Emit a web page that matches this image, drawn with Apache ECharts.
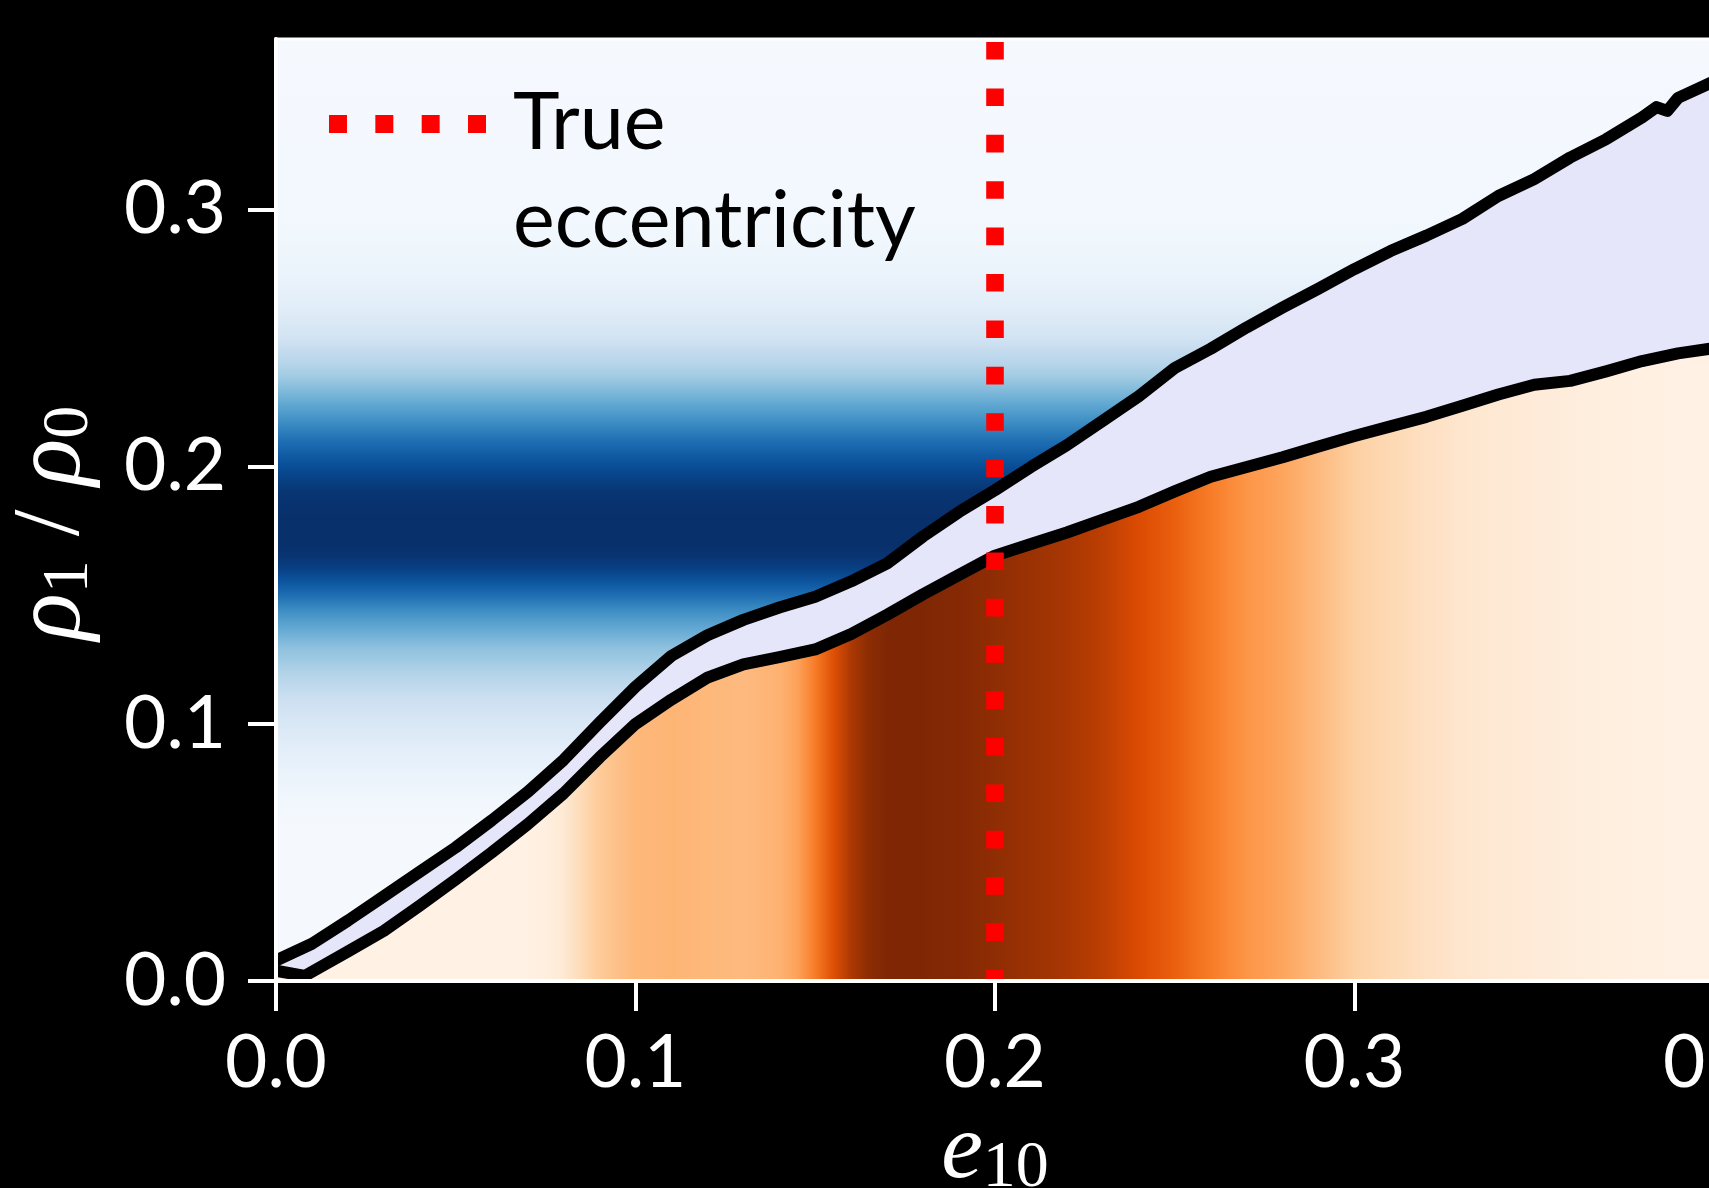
<!DOCTYPE html>
<html><head><meta charset="utf-8">
<script src="https://cdn.jsdelivr.net/npm/echarts@6/dist/echarts.min.js"></script>
<style>html,body{margin:0;padding:0;background:#000;overflow:hidden}#c{width:1709px;height:1188px}</style>
</head><body><div id="c"></div>
<script>
// ---- data ----
const xTicks = [0, 0.1, 0.2, 0.3, 0.4];
const yTicks = [0, 0.1, 0.2, 0.3];
const xMax = 0.4;
const yMax = 0.3665;
const trueEcc = 0.2;
const legendLabel = 'True eccentricity';

const upperX = [0, 0.01, 0.02, 0.03, 0.04, 0.05, 0.06, 0.07, 0.08, 0.09, 0.10, 0.11, 0.12, 0.13, 0.14, 0.15, 0.16, 0.17, 0.18, 0.19, 0.20, 0.21, 0.22, 0.23, 0.24, 0.25, 0.26, 0.27, 0.28, 0.29, 0.30, 0.31, 0.32, 0.33, 0.34, 0.35, 0.36, 0.37, 0.38, 0.384, 0.387, 0.39, 0.40];
const upperY = [0.008, 0.0145, 0.0235, 0.033, 0.0425, 0.052, 0.0625, 0.0735, 0.086, 0.1005, 0.1145, 0.1265, 0.1345, 0.1405, 0.1453, 0.1495, 0.1555, 0.1625, 0.173, 0.1825, 0.191, 0.2, 0.2085, 0.218, 0.2275, 0.2385, 0.246, 0.2543, 0.262, 0.2694, 0.277, 0.284, 0.29, 0.2965, 0.3054, 0.312, 0.3204, 0.3275, 0.336, 0.340, 0.3385, 0.3436, 0.350];

const lowerX = [0, 0.008, 0.02, 0.03, 0.04, 0.05, 0.06, 0.07, 0.08, 0.09, 0.10, 0.11, 0.12, 0.13, 0.14, 0.15, 0.16, 0.17, 0.18, 0.19, 0.20, 0.21, 0.22, 0.23, 0.24, 0.25, 0.26, 0.27, 0.28, 0.29, 0.30, 0.31, 0.32, 0.33, 0.34, 0.35, 0.36, 0.37, 0.38, 0.39, 0.40];
const lowerY = [0.004, 0.002, 0.0115, 0.0195, 0.0293, 0.0395, 0.05, 0.061, 0.073, 0.087, 0.1, 0.1095, 0.118, 0.1232, 0.126, 0.129, 0.135, 0.1425, 0.1505, 0.158, 0.1655, 0.170, 0.1745, 0.1795, 0.1845, 0.1905, 0.1962, 0.2, 0.2038, 0.208, 0.212, 0.2158, 0.2195, 0.2238, 0.2282, 0.232, 0.2335, 0.2372, 0.2412, 0.2442, 0.2462];

// density of rho1/rho0 (Blues), by y
const blueY = [0, 0.06, 0.07, 0.08, 0.09, 0.10, 0.11, 0.12, 0.13, 0.135, 0.14, 0.145, 0.15, 0.155, 0.16, 0.165, 0.17, 0.18, 0.19, 0.195, 0.20, 0.205, 0.21, 0.215, 0.22, 0.225, 0.23, 0.235, 0.24, 0.25, 0.26, 0.27, 0.28, 0.29, 0.30, 0.3665];
const blueD = [0.012, 0.012, 0.03, 0.06, 0.10, 0.15, 0.22, 0.31, 0.42, 0.49, 0.57, 0.66, 0.76, 0.85, 0.93, 0.98, 1.0, 1.0, 0.98, 0.94, 0.89, 0.83, 0.76, 0.68, 0.60, 0.52, 0.44, 0.37, 0.30, 0.19, 0.12, 0.075, 0.05, 0.035, 0.02, 0.012];

// density of e10 (Oranges), by x
const orangeX = [0, 0.07, 0.075, 0.08, 0.085, 0.09, 0.095, 0.10, 0.11, 0.12, 0.13, 0.14, 0.145, 0.15, 0.155, 0.16, 0.165, 0.17, 0.18, 0.19, 0.20, 0.21, 0.22, 0.23, 0.24, 0.25, 0.26, 0.27, 0.28, 0.29, 0.30, 0.31, 0.32, 0.33, 0.34, 0.35, 0.36, 0.37, 0.38, 0.40];
const orangeD = [0.03, 0.035, 0.05, 0.10, 0.19, 0.27, 0.31, 0.34, 0.35, 0.34, 0.33, 0.36, 0.42, 0.56, 0.72, 0.86, 0.96, 1.0, 1.0, 0.98, 0.95, 0.91, 0.87, 0.82, 0.74, 0.66, 0.56, 0.47, 0.41, 0.33, 0.25, 0.20, 0.16, 0.125, 0.10, 0.08, 0.065, 0.05, 0.04, 0.03];

// ---- colour maps (style) ----
const BLUES = ['#f7fbff','#deebf7','#c6dbef','#9ecae1','#6baed6','#4292c6','#2171b5','#08519c','#08306b'];
const ORANGES = ['#fff5eb','#fee6ce','#fdd0a2','#fdae6b','#fd8d3c','#f16913','#d94801','#a63603','#7f2704'];
function hex2rgb(h){return [parseInt(h.slice(1,3),16),parseInt(h.slice(3,5),16),parseInt(h.slice(5,7),16)];}
function cmap(stops, t){
  t = Math.max(0, Math.min(1, t));
  const p = t * (stops.length - 1);
  const i = Math.min(stops.length - 2, Math.floor(p));
  const f = p - i;
  const a = hex2rgb(stops[i]), b = hex2rgb(stops[i+1]);
  const c = a.map((v,k)=>Math.round(v + (b[k]-v)*f));
  return 'rgb(' + c.join(',') + ')';
}
const blueStops = blueY.map((y,i)=>({offset:(yMax - y)/yMax, color:cmap(BLUES, blueD[i])})).reverse();
const orangeStops = orangeX.map((x,i)=>({offset:x / xMax, color:cmap(ORANGES, orangeD[i])}));

const upper = upperX.map((x,i)=>[x, upperY[i]]);
const lower = lowerX.map((x,i)=>[x, lowerY[i]]);

const chart = echarts.init(document.getElementById('c'), null, {renderer:'canvas'});
const mathFont = 'Liberation Serif';
const W = '#ffffff';
chart.setOption({
  backgroundColor: '#000000',
  animation: false,
  grid: {left: 276, top: 39, width: 1438, height: 942, outerBoundsMode: 'none', containLabel: false,
         show: true, borderColor: W, borderWidth: 3, backgroundColor: 'transparent', z: 10},
  legend: {
    data: [legendLabel], left: 329, top: -40, padding: 0, itemGap: 0, selectedMode: false,
    icon: 'path://M0 0H18V18H0Z M46.4 0H64.4V18H46.4Z M92.8 0H110.8V18H92.8Z M139.2 0H157.2V18H139.2Z',
    itemWidth: 157, itemHeight: 18,
    itemStyle: {color: '#ff0000', borderWidth: 0},
    formatter: () => '\nTrue\neccentricity',
    textStyle: {color: '#000', fontFamily: 'Lato', fontSize: 79, lineHeight: 98, padding: [0, 0, 34, 22]}
  },
  xAxis: {
    type: 'value', min: 0, max: xMax, interval: 0.1, z: 10,
    axisLine: {show: true, lineStyle: {color: W, width: 4}},
    axisTick: {show: true, length: 30, lineStyle: {color: W, width: 4}, customValues: xTicks},
    axisLabel: {color: W, fontFamily: 'Lato', fontSize: 73, margin: 46, customValues: xTicks, formatter: v => v.toFixed(1)},
    splitLine: {show: false},
    name: '{e|e}{s|10}', nameLocation: 'middle', nameGap: 103,
    nameTextStyle: {color: W, rich: {
      e: {color: W, fontFamily: mathFont, fontStyle: 'italic', fontSize: 94, lineHeight: 100},
      s: {color: W, fontFamily: mathFont, fontSize: 66, lineHeight: 50, verticalAlign: 'bottom'}
    }}
  },
  yAxis: {
    type: 'value', min: 0, max: yMax, interval: 0.1, z: 10,
    axisLine: {show: true, lineStyle: {color: W, width: 4}},
    axisTick: {show: true, length: 28, lineStyle: {color: W, width: 4}, customValues: yTicks},
    axisLabel: {color: W, fontFamily: 'Lato', fontSize: 73, margin: 50, customValues: yTicks, formatter: v => v.toFixed(1)},
    splitLine: {show: false},
    name: '{r|ρ}{s|1}{m| / }{r|ρ}{s|0}', nameLocation: 'middle', nameGap: 173,
    nameTextStyle: {color: W, padding: [0, 26, 0, 0], rich: {
      r: {color: W, fontFamily: mathFont, fontStyle: 'italic', fontSize: 98, lineHeight: 100},
      m: {color: W, fontFamily: mathFont, fontSize: 96, lineHeight: 100},
      s: {color: W, fontFamily: mathFont, fontSize: 66, lineHeight: 50, verticalAlign: 'bottom'}
    }}
  },
  series: [
    {name: 'rho density', type: 'line', z: 1, silent: true, symbol: 'none',
     data: [[0, yMax], [xMax, yMax]], lineStyle: {width: 0, opacity: 0},
     areaStyle: {opacity: 1, color: new echarts.graphic.LinearGradient(0, 0, 0, 1, blueStops)}},
    {name: 'band', type: 'line', z: 2, silent: true, symbol: 'none',
     data: upper, lineStyle: {width: 0, opacity: 0},
     areaStyle: {opacity: 1, color: '#e6e6fa'}},
    {name: 'e density', type: 'line', z: 3, silent: true, symbol: 'none',
     data: lower, lineStyle: {width: 0, opacity: 0},
     areaStyle: {opacity: 1, color: new echarts.graphic.LinearGradient(0, 0, 1, 0, orangeStops)}},
    {name: 'upper', type: 'line', z: 4, silent: true, symbol: 'none', data: upper,
     lineStyle: {color: '#000', width: 12, cap: 'round', join: 'round'}},
    {name: 'lower', type: 'line', z: 4, silent: true, symbol: 'none', data: lower,
     lineStyle: {color: '#000', width: 12, cap: 'round', join: 'round'}},
    {name: legendLabel, type: 'line', z: 5, silent: true, symbol: 'none', color: '#ff0000',
     data: [[trueEcc, yMax], [trueEcc, 0]],
     lineStyle: {color: '#ff0000', width: 17.6, type: [17.6, 28.8], dashOffset: -3, cap: 'butt'}}
  ]
});
</script></body></html>
